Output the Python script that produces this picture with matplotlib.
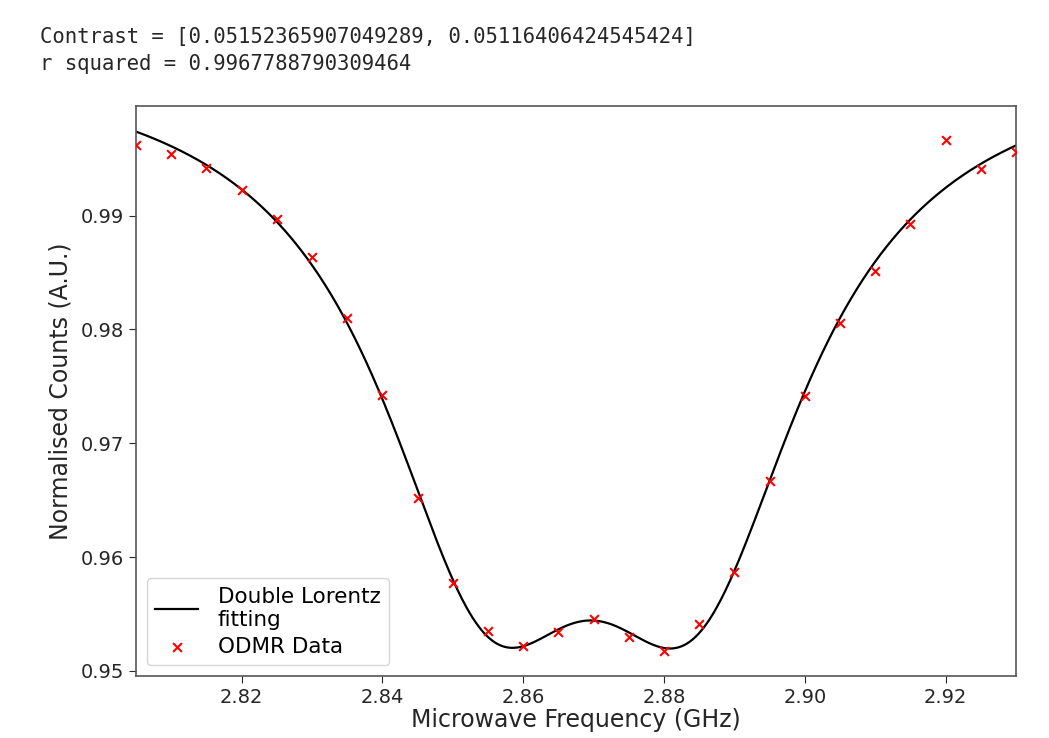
import numpy as np
import matplotlib
matplotlib.use('Agg')
import matplotlib.pyplot as plt

# ODMR sweep (GHz, normalised counts)
freq_ghz = [2.805, 2.810, 2.815, 2.820, 2.825, 2.830, 2.835, 2.840, 2.845,
            2.850, 2.855, 2.860, 2.865, 2.870, 2.875, 2.880, 2.885, 2.890,
            2.895, 2.900, 2.905, 2.910, 2.915, 2.920, 2.925, 2.930]
counts = [0.99618, 0.99539, 0.99419, 0.99223, 0.98966, 0.98638, 0.98105,
          0.97426, 0.96516, 0.95770, 0.95354, 0.95222, 0.95340, 0.95457,
          0.95301, 0.95176, 0.95410, 0.95872, 0.96668, 0.97414, 0.98058,
          0.98512, 0.98925, 0.99662, 0.99410, 0.99559]

contrast = [0.05152365907049289, 0.05116406424545424]
r_squared = 0.9967788790309464

x = np.array(freq_ghz)
y = np.array(counts)


def lorentz(f, c, g):
    return g**2 / ((f - c)**2 + g**2)


def solve_linear(f, c1, c2, g1, g2):
    # baseline and two dip depths are linear once centres / widths are fixed
    cols = np.stack([np.ones_like(f), -lorentz(f, c1, g1), -lorentz(f, c2, g2)], axis=1)
    coef, res, _, _ = np.linalg.lstsq(cols, y, rcond=None)
    sse = np.sum((cols @ coef - y)**2)
    return coef, sse


# coarse grid with a shared width, then refine each width on its own
best = None
for c1 in np.arange(2.845, 2.866, 0.001):
    for c2 in np.arange(2.874, 2.896, 0.001):
        for g in np.arange(0.005, 0.030, 0.001):
            coef, sse = solve_linear(x, c1, c2, g, g)
            if best is None or sse < best[0]:
                best = (sse, c1, c2, g, g, coef)

for step in [0.0005, 0.0002, 0.0001]:
    _, c1b, c2b, g1b, g2b, _ = best
    for c1 in c1b + step * np.arange(-3, 4):
        for c2 in c2b + step * np.arange(-3, 4):
            for g1 in g1b + step * np.arange(-3, 4):
                for g2 in g2b + step * np.arange(-3, 4):
                    if g1 <= 0 or g2 <= 0:
                        continue
                    coef, sse = solve_linear(x, c1, c2, g1, g2)
                    if sse < best[0]:
                        best = (sse, c1, c2, g1, g2, coef)

_, c1, c2, g1, g2, (base, a1, a2) = best
x_fit = np.linspace(2.805, 2.93, 600)
y_fit = base - a1 * lorentz(x_fit, c1, g1) - a2 * lorentz(x_fit, c2, g2)

txt = '#262626'
fig = plt.figure(figsize=(10.49, 7.38), dpi=100)
ax = fig.add_axes([0.1296, 0.0840, 0.8390, 0.7724])

ax.plot(x_fit, y_fit, color='black', linewidth=1.6, label='Double Lorentz\nfitting', zorder=2)
ax.scatter(x, y, marker='x', color='red', s=40, linewidths=1.5, label='ODMR Data', zorder=3)

ax.set_xlim(2.805, 2.93)
ax.set_ylim(0.94956, 0.99963)
ax.set_xticks([2.82, 2.84, 2.86, 2.88, 2.90, 2.92])
ax.set_yticks([0.95, 0.96, 0.97, 0.98, 0.99])
ax.tick_params(labelsize=14, colors=txt, length=5)
for s in ax.spines.values():
    s.set_color('#555555')
    s.set_linewidth(1.2)

ax.set_xlabel('Microwave Frequency (GHz)', fontsize=17, color=txt, labelpad=1)
ax.set_ylabel('Normalised Counts (A.U.)', fontsize=17, color=txt, labelpad=6)
ax.legend(loc='lower left', fontsize=15.5, handlelength=2.0, labelspacing=0.3,
          borderpad=0.4, handletextpad=0.9)

fig.text(40 / 1049, 1 - 37 / 738, f'Contrast = {contrast}', family='DejaVu Sans Mono',
         fontsize=14.9, color=txt, va='center', ha='left')
fig.text(40 / 1049, 1 - 64 / 738, f'r squared = {r_squared}', family='DejaVu Sans Mono',
         fontsize=14.9, color=txt, va='center', ha='left')

fig.savefig('out.png', dpi=100)
